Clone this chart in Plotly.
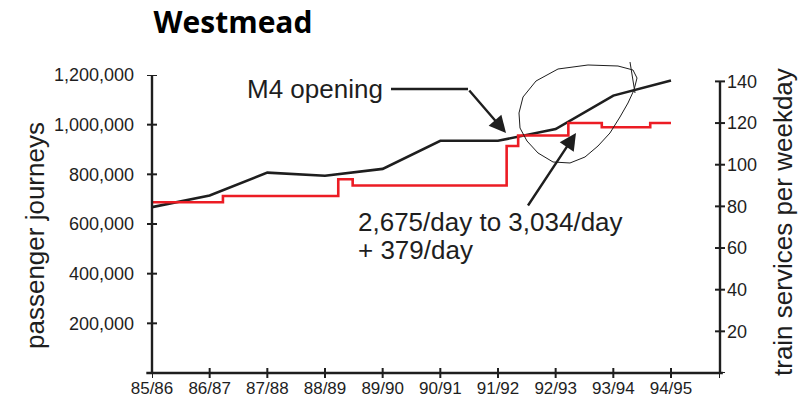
import plotly.graph_objects as go

# ---- data ----
years = ["85/86", "86/87", "87/88", "88/89", "89/90", "90/91", "91/92", "92/93", "93/94", "94/95"]
journeys = [668000, 715000, 807000, 794000, 822000, 935000, 935000, 982000, 1117000, 1178000]
# train services per weekday (step changes, position in years from 85/86)
service_pos = [0, 1.23, 3.23, 3.48, 6.15, 6.35, 7.22, 7.80, 8.64, 9.0]
services = [82, 85, 93, 90, 109, 114, 120, 118, 120, 120]
left_ticks = [200000, 400000, 600000, 800000, 1000000, 1200000]
right_ticks = [20, 40, 60, 80, 100, 120, 140]

FONT = "Liberation Sans, Arial, sans-serif"
INK = "#1e1e1e"
RED = "#ec1c24"

# plot area in pixels (for decorations)
L, R, T, B = 152, 720, 75, 373
def pp(xp, yp):
    return (xp - L) / (R - L), (B - yp) / (B - T)

fig = go.Figure()
fig.add_trace(go.Scatter(x=list(range(len(years))), y=journeys, mode="lines",
                         line=dict(color=INK, width=2.6), yaxis="y", showlegend=False))
fig.add_trace(go.Scatter(x=service_pos, y=services, mode="lines", line_shape="hv",
                         line=dict(color=RED, width=2.6), yaxis="y2", showlegend=False))

shapes = []
# axis lines
shapes.append(dict(type="line", xref="paper", yref="y", x0=0, x1=0, y0=0, y1=1200000,
                   line=dict(color=INK, width=2.4)))
shapes.append(dict(type="line", xref="paper", yref="y2", x0=1, x1=1, y0=0, y1=140,
                   line=dict(color=INK, width=2.4)))
shapes.append(dict(type="line", xref="paper", yref="paper", x0=-0.01, x1=1.005, y0=0, y1=0,
                   line=dict(color=INK, width=2.4)))
# crossing tick marks
for v in [0] + left_ticks:
    shapes.append(dict(type="line", xref="paper", yref="y", xsizemode="pixel", xanchor=0,
                       x0=-5, x1=5, y0=v, y1=v, line=dict(color=INK, width=2)))
for v in [0] + right_ticks:
    shapes.append(dict(type="line", xref="paper", yref="y2", xsizemode="pixel", xanchor=1,
                       x0=-5, x1=5, y0=v, y1=v, line=dict(color=INK, width=2)))
for i in list(range(len(years))) + [9.85]:
    shapes.append(dict(type="line", xref="x", yref="paper", ysizemode="pixel", yanchor=0,
                       x0=i, x1=i, y0=-5, y1=5, line=dict(color=INK, width=2)))

# "M4 opening" leader line
a = pp(391, 89); b = pp(468, 89)
shapes.append(dict(type="line", xref="paper", yref="paper", x0=a[0], y0=a[1], x1=b[0], y1=b[1],
                   line=dict(color=INK, width=2.4)))

# hand-drawn loop
loop = [(633, 70), (637, 78), (634, 90), (628, 103), (620, 117), (610, 133), (598, 146),
        (585, 157), (570, 163), (553, 162), (538, 153), (527, 141), (520, 128), (519, 113),
        (523, 97), (536, 81), (558, 69), (588, 65), (618, 66), (633, 70)]
pts = [pp(x, y) for x, y in loop]
path = "M {:.4f},{:.4f} ".format(*pts[0]) + " ".join("L {:.4f},{:.4f}".format(*p) for p in pts[1:])
shapes.append(dict(type="path", xref="paper", yref="paper", path=path,
                   line=dict(color=INK, width=1)))
t0 = pp(630, 62); t1 = pp(635, 93)
shapes.append(dict(type="line", xref="paper", yref="paper", x0=t0[0], y0=t0[1], x1=t1[0], y1=t1[1],
                   line=dict(color=INK, width=1)))

annotations = []
m = pp(245, 89)
annotations.append(dict(xref="paper", yref="paper", x=m[0], y=m[1], text="M4 opening",
                        showarrow=False, xanchor="left", yanchor="middle",
                        font=dict(family=FONT, size=26, color=INK)))
tip = pp(506, 133)
annotations.append(dict(xref="paper", yref="paper", x=tip[0], y=tip[1], text="",
                        showarrow=True, ax=-38, ay=-44, arrowhead=2, arrowsize=1.4,
                        arrowwidth=2.4, arrowcolor=INK, standoff=0))
tip2 = pp(576, 133)
annotations.append(dict(xref="paper", yref="paper", x=tip2[0], y=tip2[1], text="",
                        showarrow=True, ax=-49, ay=74, arrowhead=2, arrowsize=1.4,
                        arrowwidth=2.4, arrowcolor=INK, standoff=0))
l1 = pp(356, 222)
annotations.append(dict(xref="paper", yref="paper", x=l1[0], y=l1[1], text="2,675/day to 3,034/day",
                        showarrow=False, xanchor="left", yanchor="middle",
                        font=dict(family=FONT, size=26, color=INK)))
l2 = pp(356, 250)
annotations.append(dict(xref="paper", yref="paper", x=l2[0], y=l2[1], text="+ 379/day",
                        showarrow=False, xanchor="left", yanchor="middle",
                        font=dict(family=FONT, size=26, color=INK)))
# axis titles
yt = pp(35, 236)
annotations.append(dict(xref="paper", yref="paper", x=yt[0], y=yt[1], text="passenger journeys",
                        showarrow=False, textangle=-90, xanchor="center", yanchor="middle",
                        font=dict(family=FONT, size=26, color=INK)))
yt2 = pp(783, 222)
annotations.append(dict(xref="paper", yref="paper", x=yt2[0], y=yt2[1], text="train services per weekday",
                        showarrow=False, textangle=-90, xanchor="center", yanchor="middle",
                        font=dict(family=FONT, size=26, color=INK)))

fig.update_layout(
    width=798, height=403,
    margin=dict(l=L, r=798 - R, t=T, b=403 - B, autoexpand=False),
    paper_bgcolor="white", plot_bgcolor="white",
    title=dict(text="<b>Westmead</b>", x=233 / 798, xanchor="center", xref="container",
               y=1 - 22 / 403, yanchor="middle", yref="container",
               font=dict(family="Open Sans, sans-serif", size=30, color="#000")),
    xaxis=dict(range=[0, 9.85], tickvals=list(range(len(years))), ticktext=years,
               showgrid=False, zeroline=False, showline=False, ticks="", automargin=False,
               ticklabelstandoff=3, tickfont=dict(family=FONT, size=17, color=INK)),
    yaxis=dict(range=[0, 1200000], tickvals=left_ticks, ticktext=[f"{v:,}" for v in left_ticks],
               showgrid=False, zeroline=False, showline=False, ticks="", automargin=False,
               ticklabelstandoff=17, tickfont=dict(family=FONT, size=18, color=INK)),
    yaxis2=dict(range=[0, 140 * (B - T) / (B - 81.4)], overlaying="y", side="right",
                tickvals=right_ticks, ticktext=[str(v) for v in right_ticks],
                showgrid=False, zeroline=False, showline=False, ticks="", automargin=False,
                ticklabelstandoff=6, tickfont=dict(family=FONT, size=18, color=INK)),
    shapes=shapes, annotations=annotations,
)
fig.write_html("out.html", config={"displayModeBar": False},
               post_script="document.body.style.margin='0';document.body.style.overflow='hidden';")
